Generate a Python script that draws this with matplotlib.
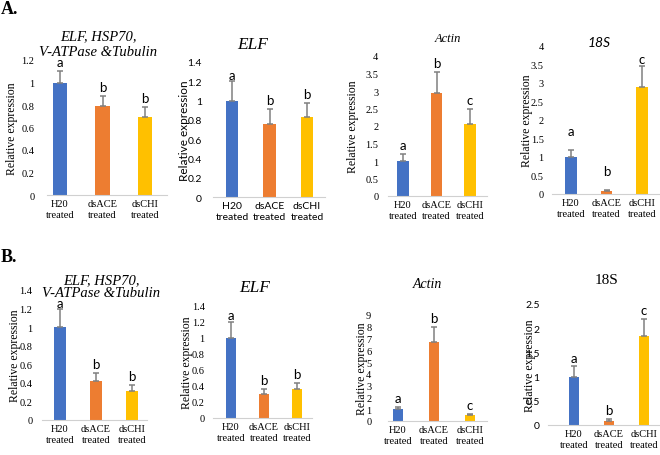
import matplotlib
matplotlib.use("Agg")
import matplotlib.pyplot as plt

# categories shared by all panels
groups = ["H20\ntreated", "dsACE\ntreated", "dsCHI\ntreated"]
colors = ["#4472C4", "#ED7D31", "#FFC000"]

# panel A
a_ref_vals = [1.0, 0.79, 0.69]
a_ref_err = [0.10, 0.09, 0.09]
a_ref_lett = ["a", "b", "b"]
a_elf_vals = [1.0, 0.76, 0.83]
a_elf_err = [0.20, 0.15, 0.15]
a_elf_lett = ["a", "b", "b"]
a_act_vals = [1.0, 2.95, 2.05]
a_act_err = [0.21, 0.60, 0.43]
a_act_lett = ["a", "b", "c"]
a_18s_vals = [1.0, 0.08, 2.88]
a_18s_err = [0.20, 0.04, 0.58]
a_18s_lett = ["a", "b", "c"]

# panel B
b_ref_vals = [1.0, 0.42, 0.31]
b_ref_err = [0.20, 0.09, 0.07]
b_ref_lett = ["a", "b", "b"]
b_elf_vals = [1.0, 0.30, 0.36]
b_elf_err = [0.20, 0.06, 0.08]
b_elf_lett = ["a", "b", "b"]
b_act_vals = [1.0, 6.7, 0.48]
b_act_err = [0.18, 1.3, 0.13]
b_act_lett = ["a", "b", "c"]
b_18s_vals = [1.0, 0.09, 1.83]
b_18s_err = [0.21, 0.03, 0.36]
b_18s_lett = ["a", "b", "c"]

W, H = 660, 456
SERIF = "Liberation Serif"
SANS = "Lato"

fig = plt.figure(figsize=(W / 100, H / 100), dpi=100)


def panel(vals, err, lett, ymax, step, box, centers, tick_font, lab_font,
          ypad, lab_x, title, title_xy, title_font, title_style, title_size,
          lett_pad=(2, 2, 2), bw=0.33, title_ls=1.2):
    x0, x1, ybase, ytop = box
    c1, c3 = centers
    s = (c3 - c1) / 2.0
    ax = fig.add_axes([x0 / W, 1 - ybase / H, (x1 - x0) / W, (ybase - ytop) / H])
    xs = range(len(vals))
    ax.bar(xs, vals, width=bw, color=colors, zorder=2)
    ax.errorbar(xs, vals, yerr=[[0] * len(err), err], fmt="none",
                ecolor="#808080", elinewidth=1.1, capsize=2.5, capthick=1.1, zorder=3)
    for i in xs:
        ax.annotate(lett[i], (i, vals[i] + err[i]), xytext=(0, lett_pad[i]),
                    textcoords="offset points", ha="center", va="bottom",
                    fontsize=9.5, family=SANS)
    ax.set_xlim((x0 - c1) / s, 2 + (x1 - c3) / s)
    ax.set_ylim(0, ymax)
    ticks = [k * step for k in range(int(round(ymax / step)) + 1)]
    ax.set_yticks(ticks)
    ax.set_yticklabels([f"{t:g}" for t in ticks], family=tick_font, fontsize=7.5)
    ax.set_xticks(list(xs))
    ax.set_xticklabels(groups, family=lab_font, fontsize=7.5, linespacing=1.25)
    ax.tick_params(axis="both", length=0)
    ax.tick_params(axis="y", pad=ypad)
    ax.tick_params(axis="x", pad=3)
    for sp in ["top", "right", "left"]:
        ax.spines[sp].set_visible(False)
    ax.spines["bottom"].set_color("#d0d0d0")
    ax.spines["bottom"].set_linewidth(0.8)
    fig.text(lab_x / W, 1 - (ybase + ytop) / 2 / H, "Relative expression",
             rotation=90, ha="center", va="center", family=lab_font, fontsize=8.5)
    fig.text(title_xy[0] / W, 1 - title_xy[1] / H, title, ha="center", va="center",
             family=title_font, style=title_style, fontsize=title_size,
             linespacing=title_ls)
    return ax


# row A
panel(a_ref_vals, a_ref_err, a_ref_lett, 1.2, 0.2, (47, 167, 196, 61), (60, 145),
      SERIF, SERIF, 9, 12, "ELF, HSP70,\nV-ATPase &Tubulin", (98, 45),
      SERIF, "italic", 10.5, title_ls=1.3)
panel(a_elf_vals, a_elf_err, a_elf_lett, 1.4, 0.2, (213, 325, 198, 63), (232, 307),
      SANS, SANS, 8, 185, "ELF", (253, 45), SERIF, "italic", 12.5, lett_pad=(0, 2, 2))
panel(a_act_vals, a_act_err, a_act_lett, 4, 0.5, (388, 487, 197, 57), (403, 470),
      SERIF, SERIF, 7, 353, "Actin", (448, 39), SERIF, "italic", 9)
panel(a_18s_vals, a_18s_err, a_18s_lett, 4, 0.5, (552, 660, 195, 47), (571, 642),
      SERIF, SERIF, 6, 527, "18S", (599, 43), SANS, "italic", 10,
      lett_pad=(9, 9, 1))

# row B
panel(b_ref_vals, b_ref_err, b_ref_lett, 1.4, 0.2, (42, 147, 421, 291), (60, 132),
      SERIF, SERIF, 7, 15, "ELF, HSP70,\nV-ATPase &Tubulin", (101, 287),
      SERIF, "italic", 10.5, lett_pad=(0, 2, 2), title_ls=1.0)
panel(b_elf_vals, b_elf_err, b_elf_lett, 1.4, 0.2, (213, 312, 419, 307), (231, 297),
      SERIF, SERIF, 6, 187, "ELF", (255, 288), SERIF, "italic", 12.5,
      lett_pad=(1, 2, 2))
panel(b_act_vals, b_act_err, b_act_lett, 9, 1, (388, 487, 422, 316), (398, 470),
      SERIF, SERIF, 12, 362, "Actin", (427, 285), SERIF, "italic", 10, bw=0.3)
panel(b_18s_vals, b_18s_err, b_18s_lett, 2.5, 0.5, (548, 660, 426, 305), (574, 644),
      SANS, SERIF, 6, 530, "18S", (607, 281), SERIF, "normal", 11, bw=0.3)

fig.text(1 / W, 1 - 9 / H, "A.", family=SERIF, weight="bold", fontsize=13,
         ha="left", va="center")
fig.text(1 / W, 1 - 258 / H, "B.", family=SERIF, weight="bold", fontsize=13,
         ha="left", va="center")

fig.savefig("out.png", dpi=100)
